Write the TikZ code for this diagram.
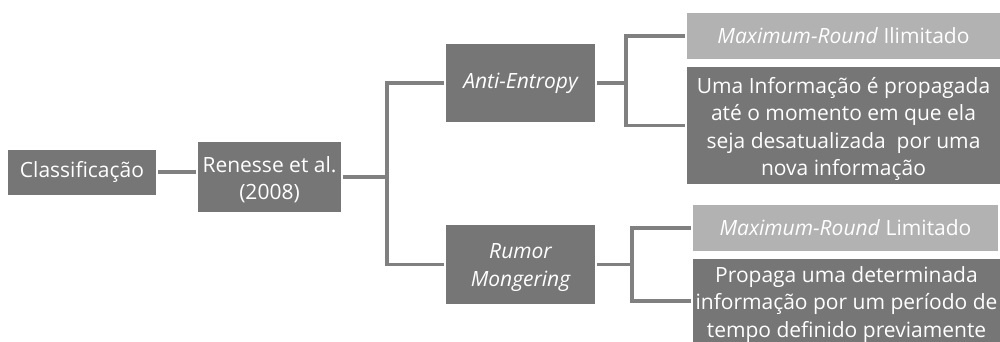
\documentclass[tikz,border=0pt]{standalone}
\usepackage{fontspec}
\setmainfont{Open Sans}
\begin{document}
\begin{tikzpicture}[x=1pt,y=-1pt,
  box/.style={fill=boxdark,text=white,inner sep=0pt,outer sep=2pt,align=center,
    font=\fontsize{21}{27.3}\selectfont},
  lbox/.style={box,fill=boxlight},
  txt/.style={text=white,inner sep=0pt,align=center,font=\fontsize{21}{27.3}\selectfont},
  conn/.style={draw=linegray,line width=3.3pt}]
\definecolor{boxdark}{RGB}{118,118,118}
\definecolor{boxlight}{RGB}{178,178,178}
\definecolor{linegray}{RGB}{128,128,128}
\useasboundingbox (0,0) rectangle (1000,342);
\node[box,minimum width=148pt,minimum height=45pt] (c) at (82,172) {Classificação};
\node[box,minimum width=143pt,minimum height=70pt] (r) at (269.5,177) {};
\node[txt] (rt) at ([yshift=-2.5pt]r.center) {Renesse et al.\\(2008)};
\node[box,minimum width=149pt,minimum height=78pt] (ae) at (520.5,83) {\itshape Anti-Entropy};
\node[box,minimum width=149pt,minimum height=79pt] (rm) at (520.5,264.5) {};
\node[txt] (rmt) at ([yshift=-3pt]rm.center) {\itshape Rumor\\\itshape Mongering};
\node[lbox,minimum width=313pt,minimum height=46pt] (m1) at (843.5,36) {\textit{Maximum-Round} Ilimitado};
\node[box,minimum width=313pt,minimum height=116pt] (d1) at (843.5,125.5) {};
\node[txt] (d1t) at ([yshift=-3.5pt]d1.center) {Uma Informação é propagada\\até o momento em que ela\\seja desatualizada\ \ por uma\\nova informação};
\node[lbox,minimum width=305pt,minimum height=46pt] (m2) at (845.5,228) {\textit{Maximum-Round} Limitado};
\node[box,minimum width=307pt,minimum height=84pt] (d2) at (846.5,301) {};
\node[txt] (d2t) at ([yshift=-3.5pt]d2.center) {Propaga uma determinada\\informação por um período de\\tempo definido previamente};
\draw[conn] (c.east) -- (c.east -| r.west);
\draw[conn] (r.east) -- ++(44,0) coordinate (j1) |- (ae.west);
\draw[conn] (j1) |- (rm.west);
\draw[conn] (ae.east) -- ++(29,0) coordinate (j2) |- (m1.west);
\draw[conn] (j2) |- (d1.west);
\draw[conn] (rm.east) -- ++(35,0) coordinate (j3) |- (m2.west);
\draw[conn] (j3) |- (d2.west);
\end{tikzpicture}
\end{document}
